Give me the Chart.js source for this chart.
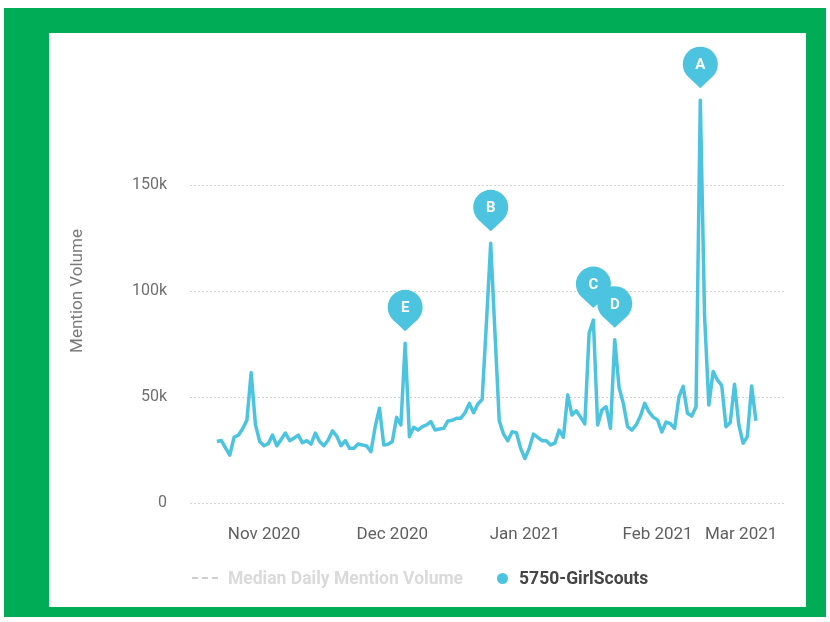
<!DOCTYPE html>
<html>
<head>
<meta charset="utf-8">
<title>Mention Volume</title>
<script src="https://cdn.jsdelivr.net/npm/chart.js@4.4.1/dist/chart.umd.min.js"></script>
<style>
  body { margin: 0; background: #fff; font-family: Roboto, sans-serif; }
  .frame { position: absolute; left: 4px; top: 8px; width: 822px; height: 609px; background: #00ad56; }
  .card { position: absolute; left: 45px; top: 25px; width: 757px; height: 574px; background: #fff; overflow: hidden; }
  #mentionChart { position: absolute; left: 0; top: 0; }
  .legend { position: absolute; left: 143px; top: 535px; height: 20px; display: flex; align-items: center;
            font: bold 17.5px Roboto, sans-serif; white-space: nowrap; }
  .legend .item { display: flex; align-items: center; }
  .legend .muted { color: #dadada; margin-right: 34px; }
  .legend .strong { color: #454545; }
  .legend .dash { width: 26px; height: 2px; margin-right: 10px;
                  background: repeating-linear-gradient(to right, #cfcfcf 0 6px, transparent 6px 10px); }
  .legend .dot { width: 11px; height: 11px; border-radius: 50%; background: #4cc4e0; margin-right: 11px; }
</style>
</head>
<body>
<div class="frame">
  <div class="card">
    <canvas id="mentionChart" width="757" height="574"></canvas>
    <div class="legend">
      <span class="item muted"><span class="dash"></span>Median Daily Mention Volume</span>
      <span class="item strong"><span class="dot"></span>5750-GirlScouts</span>
    </div>
  </div>
</div>
<script>
// daily series, first value is 2020-10-21
const startDate = '2020-10-21';
const mentionVolume = [
  29000, 29500, 26000, 22600, 31000, 32000, 35000, 39000, 61500, 37000,
  29000, 27000, 28000, 32000, 27000, 30000, 33000, 29400, 30600, 32000,
  28400, 29400, 27800, 33000, 29000, 27000, 29700, 34000, 31600, 27000,
  29400, 25800, 25800, 27800, 27400, 26900, 24200, 36000, 44700, 27400,
  27700, 29000, 40400, 36800, 75300, 31300, 35700, 34400, 36000, 36800,
  38400, 34400, 34900, 35200, 38700, 39000, 40000, 40000, 42600, 47000,
  42600, 46700, 48900, 85000, 122500, 80000, 38800, 32500, 29400, 33600,
  33200, 25800, 21000, 25800, 32500, 31000, 29400, 29400, 27400, 28200,
  34400, 31000, 51000, 41500, 43500, 40500, 37300, 80000, 86300, 36800,
  43900, 45400, 35200, 77000, 54500, 47000, 36000, 34400, 36800, 41000,
  47000, 43000, 40500, 39200, 33500, 38200, 37400, 35200, 50000, 55000,
  42300, 41000, 45400, 190000, 88000, 46200, 62000, 58000, 55500, 36000,
  38000, 56000, 37000, 28200, 31300, 55200, 38800
];

const yTicks = [0, 50000, 100000, 150000];
const monthDates = ['2020-11-01', '2020-12-01', '2021-01-01', '2021-02-01', '2021-03-01'];
const monthLabels = ['Nov 2020', 'Dec 2020', 'Jan 2021', 'Feb 2021', 'Mar 2021'];

const pinLetters = ['E', 'B', 'C', 'D', 'A'];
const pinDates = ['2020-12-04', '2020-12-24', '2021-01-17', '2021-01-22', '2021-02-11'];

const lineColor = '#4cc4e0';

function dayIndex(dateStr) {
    return Math.round((Date.parse(dateStr) - Date.parse(startDate)) / 86400000);
}

const monthDays = monthDates.map(dayIndex);
const points = mentionVolume.map((v, i) => ({ x: i, y: v }));

// lettered markers above the spikes
const pinPlugin = {
    id: 'pins',
    afterDatasetsDraw(chart) {
        const { ctx, scales: { x, y } } = chart;
        pinLetters.forEach((letter, i) => {
            const d = dayIndex(pinDates[i]);
            const px = x.getPixelForValue(d);
            const py = y.getPixelForValue(mentionVolume[d]);
            const cy = py - 36;
            const r = 17.5;
            ctx.save();
            ctx.beginPath();
            ctx.arc(px, cy, r, Math.PI * 0.75, Math.PI * 0.25);
            ctx.lineTo(px, py - 12);
            ctx.closePath();
            ctx.fillStyle = lineColor;
            ctx.fill();
            ctx.fillStyle = '#fff';
            ctx.font = 'bold 15px Roboto, sans-serif';
            ctx.textAlign = 'center';
            ctx.textBaseline = 'middle';
            ctx.fillText(letter, px, cy + 1);
            ctx.restore();
        });
    }
};

const ctx = document.getElementById('mentionChart').getContext('2d');
const mentionChart = new Chart(ctx, {
    type: 'line',
    data: {
        datasets: [{
            label: '5750-GirlScouts',
            data: points,
            borderColor: lineColor,
            borderWidth: 3.5,
            borderJoinStyle: 'round',
            pointRadius: 0,
            tension: 0,
            fill: false
        }]
    },
    options: {
        responsive: false,
        animation: false,
        layout: { padding: { top: 46, right: 21, left: 0, bottom: 0 } },
        plugins: {
            legend: { display: false },
            tooltip: { enabled: false }
        },
        scales: {
            x: {
                type: 'linear',
                min: -6.3,
                max: 132.8,
                grid: { display: false },
                border: { display: false },
                afterBuildTicks: function(scale) {
                    scale.ticks = [scale.min].concat(monthDays).map(v => ({ value: v }));
                },
                afterFit: function(scale) {
                    scale.height = 104;
                },
                ticks: {
                    autoSkip: false,
                    maxRotation: 0,
                    align: 'inner',
                    padding: 14,
                    color: '#5f5f5f',
                    font: { family: 'Roboto', size: 17 },
                    callback: function(value) {
                        const i = monthDays.indexOf(value);
                        return i >= 0 ? monthLabels[i] : '';
                    }
                }
            },
            y: {
                min: 0,
                max: 200000,
                afterBuildTicks: function(scale) {
                    scale.ticks = yTicks.map(v => ({ value: v }));
                },
                afterFit: function(scale) {
                    scale.width = 141;
                },
                grid: { color: '#d4d4d4', lineWidth: 1, drawTicks: false },
                border: { display: false, dash: [2, 2] },
                ticks: {
                    padding: 23,
                    color: '#707070',
                    font: { family: 'Roboto', size: 16 },
                    callback: function(value) {
                        return value === 0 ? '0' : (value / 1000) + 'k';
                    }
                },
                title: {
                    display: true,
                    text: 'Mention Volume',
                    color: '#7a7a7a',
                    font: { family: 'Roboto', size: 17 },
                    padding: { top: 19, bottom: 0 }
                }
            }
        }
    },
    plugins: [pinPlugin]
});
</script>
</body>
</html>
